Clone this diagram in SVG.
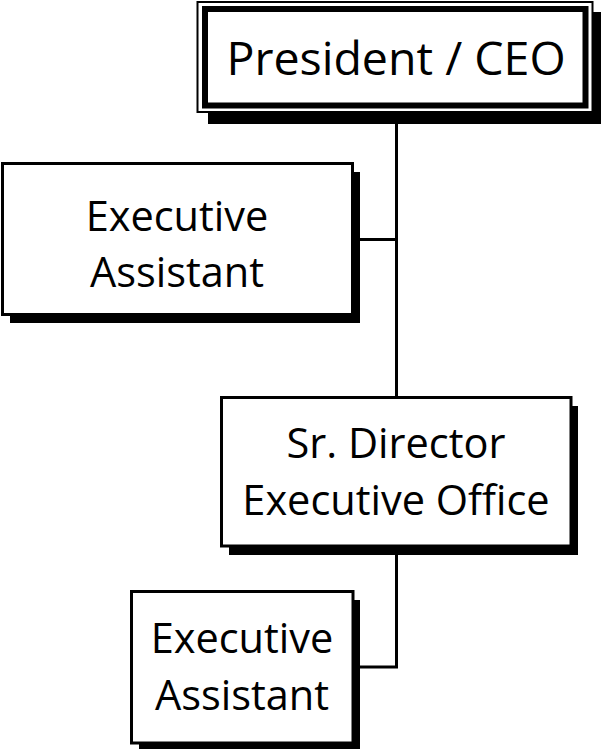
<svg xmlns="http://www.w3.org/2000/svg" width="601" height="749" viewBox="0 0 601 749">
<style>
.box{fill:#fff;stroke:#000;stroke-width:3}
.shadow{fill:#000}
.t{font-family:"Open Sans","Noto Sans",sans-serif;font-size:41.5px;text-anchor:middle;fill:#000}
.big{font-size:46.5px}
.conn{stroke:#000;stroke-width:3;fill:none}
</style>
<rect width="601" height="749" fill="#fff"/>
<g id="connectors">
<path class="conn" d="M396.5 112 V397.5 M352.5 239.5 H396.5 M396.5 546 V667 H353"/>
</g>
<g id="president">
<rect class="shadow" x="208" y="12" width="393" height="112"/>
<rect x="197.5" y="2" width="395" height="110" fill="#fff" stroke="#000" stroke-width="2"/>
<rect x="205" y="9" width="380.5" height="96.5" fill="none" stroke="#000" stroke-width="6"/>
<text class="t big" x="396" y="75">President / CEO</text>
</g>
<g id="exec-assistant-1">
<rect class="shadow" x="10" y="172" width="350" height="151"/>
<rect class="box" x="2.5" y="163.5" width="350" height="151"/>
<text class="t" x="177" y="231">Executive</text>
<text class="t" x="177" y="287">Assistant</text>
</g>
<g id="sr-director">
<rect class="shadow" x="229" y="406" width="349" height="149"/>
<rect class="box" x="221.5" y="397.5" width="349.5" height="148.5"/>
<text class="t" x="396" y="458">Sr. Director</text>
<text class="t" x="396" y="515">Executive Office</text>
</g>
<g id="exec-assistant-2">
<rect class="shadow" x="139" y="600" width="221" height="150"/>
<rect class="box" x="131.5" y="591.5" width="221.5" height="151.5"/>
<text class="t" x="242" y="653">Executive</text>
<text class="t" x="242" y="710">Assistant</text>
</g>
</svg>
